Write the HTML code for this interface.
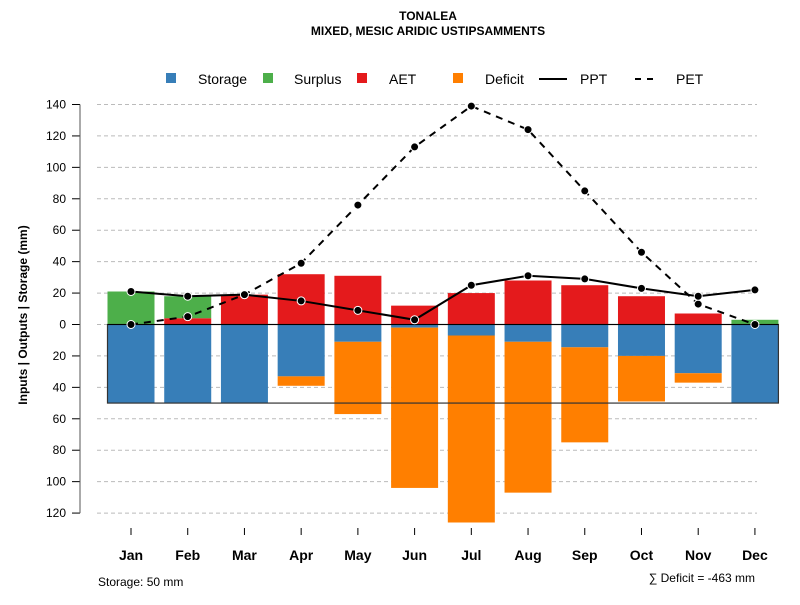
<!DOCTYPE html>
<html><head><meta charset="utf-8"><style>
body{margin:0;background:#fff;font-family:"Liberation Sans",sans-serif}
svg text{font-family:"Liberation Sans",sans-serif}
</style></head><body>
<svg id="chart" width="800" height="600">
<text x="428" y="20" text-anchor="middle" font-size="12" font-weight="bold">TONALEA</text>
<text x="428" y="35" text-anchor="middle" font-size="12" font-weight="bold">MIXED, MESIC ARIDIC USTIPSAMMENTS</text>
<g font-size="14">
<rect x="166" y="73" width="10" height="10" fill="#377EB8"/>
<text x="198" y="84">Storage</text>
<rect x="263" y="73" width="10" height="10" fill="#4DAF4A"/>
<text x="294" y="84">Surplus</text>
<rect x="357" y="73" width="10" height="10" fill="#E41A1C"/>
<text x="389" y="84">AET</text>
<rect x="453" y="73" width="10" height="10" fill="#FF7F00"/>
<text x="485" y="84">Deficit</text>
<line x1="539" y1="79" x2="567" y2="79" stroke="#000" stroke-width="2"/>
<text x="580" y="84">PPT</text>
<line x1="635" y1="79" x2="659" y2="79" stroke="#000" stroke-width="2" stroke-dasharray="6,6"/>
<text x="676" y="84">PET</text>
</g>
<text transform="translate(27,315) rotate(-90)" text-anchor="middle" font-size="12" font-weight="bold">Inputs | Outputs | Storage    (mm)</text>
<text x="98" y="586" font-size="12">Storage: 50 mm</text>
<text x="755" y="582" text-anchor="end" font-size="12">∑ Deficit = -463 mm</text>
<g id="grid"></g><g id="bars"></g><g id="lines"></g><g id="axes"></g>
</svg>
<script>
const months=["Jan","Feb","Mar","Apr","May","Jun","Jul","Aug","Sep","Oct","Nov","Dec"];
const aet=[0,4,19,32,31,12,20,28,25,18,7,0];
const surplus=[21,14,0,0,0,0,0,0,0,0,0,3];
const storage=[50,50,50,33,11,2,7,11,14.5,20,31,50];
const deficit=[0,0,0,6,46,102,119,96,60.5,29,6,0];
const ppt=[21,18,19,15,9,3,25,31,29,23,18,22];
const pet=[0,5,19,39,76,113,139,124,85,46,13,0];
const yTicks=[140,120,100,80,60,40,20,0,20,40,60,80,100,120];
const yTickSigned=[140,120,100,80,60,40,20,0,-20,-40,-60,-80,-100,-120];
const storageCap=50;
const NS="http://www.w3.org/2000/svg";
const y0=324.5, k=220/140;
function ys(v){return y0-v*k;}
function xs(i){return 131+i*56.72;}
const bw=47;
function mk(tag,attrs,parent){const e=document.createElementNS(NS,tag);for(const a in attrs)e.setAttribute(a,attrs[a]);document.getElementById(parent).appendChild(e);return e;}
yTickSigned.forEach((v,i)=>{
 const g=mk('line',{x1:97,x2:757,y1:ys(v),y2:ys(v),stroke:'#bbb','stroke-dasharray':'4,3'},'grid');
 
 
 const t=mk('line',{x1:72,x2:80,y1:ys(v),y2:ys(v),stroke:'#000'},'axes');
 
 
 const l=mk('text',{x:66,y:ys(v)+4,'text-anchor':'end','font-size':12},'axes');
 l.textContent=yTicks[i];
 
 
});
const ax=mk('line',{x1:80,x2:80,y1:ys(140),y2:ys(-120),stroke:'#555'},'axes');


months.forEach((m,i)=>{
 const x=xs(i);
 function bar(v0,v1,c,name){if(v1===v0)return;const b=mk('rect',{x:x-bw/2,y:Math.min(ys(v0),ys(v1)),width:bw,height:Math.abs(ys(v1)-ys(v0)),fill:c},'bars');
  
  }
 bar(0,aet[i],'#E41A1C','bar-aet-'+m.toLowerCase());
 bar(aet[i],aet[i]+surplus[i],'#4DAF4A','bar-surplus-'+m.toLowerCase());
 bar(0,-storage[i],'#377EB8','bar-storage-'+m.toLowerCase());
 bar(-storage[i],-storage[i]-deficit[i],'#FF7F00','bar-deficit-'+m.toLowerCase());
 const t=mk('line',{x1:x,x2:x,y1:528,y2:535,stroke:'#000'},'axes');
 
 
 const l=mk('text',{x:x,y:560,'text-anchor':'middle','font-size':14,'font-weight':'bold'},'axes');
 l.textContent=m;
 
 
});
const box=mk('rect',{x:xs(0)-bw/2,y:ys(0),width:xs(11)-xs(0)+bw,height:ys(-storageCap)-ys(0),fill:'none',stroke:'#333','stroke-width':1.2},'bars');


const zl=mk('line',{x1:xs(0)-bw/2,x2:xs(11)+bw/2,y1:ys(0),y2:ys(0),stroke:'#000'},'bars');


function series(arr,dash,name){
 const p=mk('polyline',{points:arr.map((v,i)=>xs(i)+','+ys(v)).join(' '),fill:'none',stroke:'#000','stroke-width':2,'stroke-dasharray':dash},'lines');
 
 
 arr.forEach((v,i)=>{const c=mk('circle',{cx:xs(i),cy:ys(v),r:4,fill:'#000',stroke:'#fff','stroke-width':1},'lines');
  
  });
}
series(pet,'7,6','pet');
series(ppt,'none','ppt');
</script>
</body></html>
